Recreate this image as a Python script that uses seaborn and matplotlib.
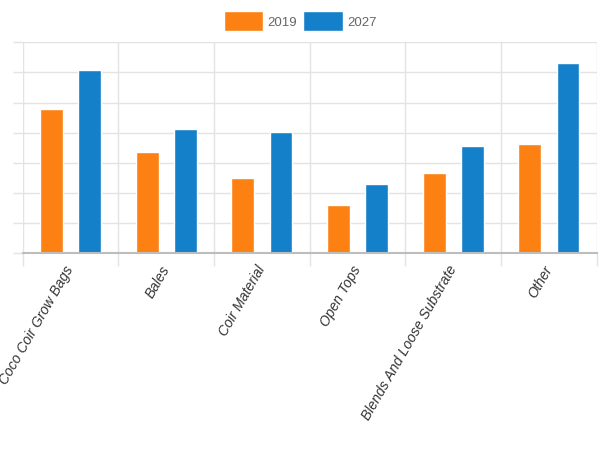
import matplotlib
matplotlib.use('Agg')
import matplotlib.pyplot as plt
import seaborn as sns
import pandas as pd
import numpy as np

# --- Data ---
categories = ['Coco Coir Grow Bags', 'Bales', 'Coir Material', 'Open Tops',
              'Blends And Loose Substrate', 'Other']
values_2019 = [4.78, 3.35, 2.50, 1.61, 2.67, 3.62]
values_2027 = [6.07, 4.12, 4.01, 2.29, 3.56, 6.32]
years = ['2019', '2027']
colors = ['#FD8112', '#1380C9']

df = pd.DataFrame({
    'segment': categories * 2,
    'year': [years[0]] * len(categories) + [years[1]] * len(categories),
    'value': values_2019 + values_2027,
})

sns.set_style('white')
plt.rcParams['font.family'] = ['Liberation Sans', 'DejaVu Sans']

fig = plt.figure(figsize=(6, 4.52), dpi=100)
ax = fig.add_axes([0.0378, 0.4374, 0.9567, 0.4668])

sns.barplot(data=df, x='segment', y='value', hue='year', order=categories,
            hue_order=years, palette=colors, width=0.8, gap=0.4,
            saturation=1, ax=ax, legend=True)

ax.set_xlim(-0.5, len(categories) - 0.5)
ax.set_ylim(0, 7)
ax.set_yticks(np.arange(0, 8, 1))
ax.set_yticklabels([])
ax.set_xlabel('')
ax.set_ylabel('')

# grid lines: horizontal at each unit, vertical between categories
ax.set_xticks(np.arange(-0.5, len(categories), 1), minor=True)
ax.grid(axis='y', color='#e3e3e3', linewidth=1)
ax.grid(axis='x', which='minor', color='#e3e3e3', linewidth=1)
ax.set_axisbelow(True)
ax.tick_params(axis='y', length=7, color='#e3e3e3', width=1, left=True)
ax.tick_params(axis='x', which='minor', length=9.5, color='#e3e3e3', width=1,
               bottom=True)
ax.tick_params(axis='x', which='major', length=0, pad=9)

for side in ['top', 'right', 'left']:
    ax.spines[side].set_visible(False)
ax.spines['bottom'].set_color('#bdbdbd')
ax.spines['bottom'].set_linewidth(1.5)

ax.set_xticks(range(len(categories)))
ax.set_xticklabels(categories, rotation=60, ha='right', va='center',
                   rotation_mode='anchor', fontsize=10, color='#333333')
for lbl in ax.get_xticklabels():
    lbl.set_fontstyle('italic')

handles, labels = ax.get_legend_handles_labels()
ax.legend(handles, labels, loc='center', bbox_to_anchor=(0.5, 0.952),
          bbox_transform=fig.transFigure, ncol=2, frameon=False,
          fontsize=9.5, labelcolor='#666666', handlelength=3.0,
          handleheight=2.0, handletextpad=0.3, columnspacing=0.5)

fig.savefig('out.png', dpi=100)
